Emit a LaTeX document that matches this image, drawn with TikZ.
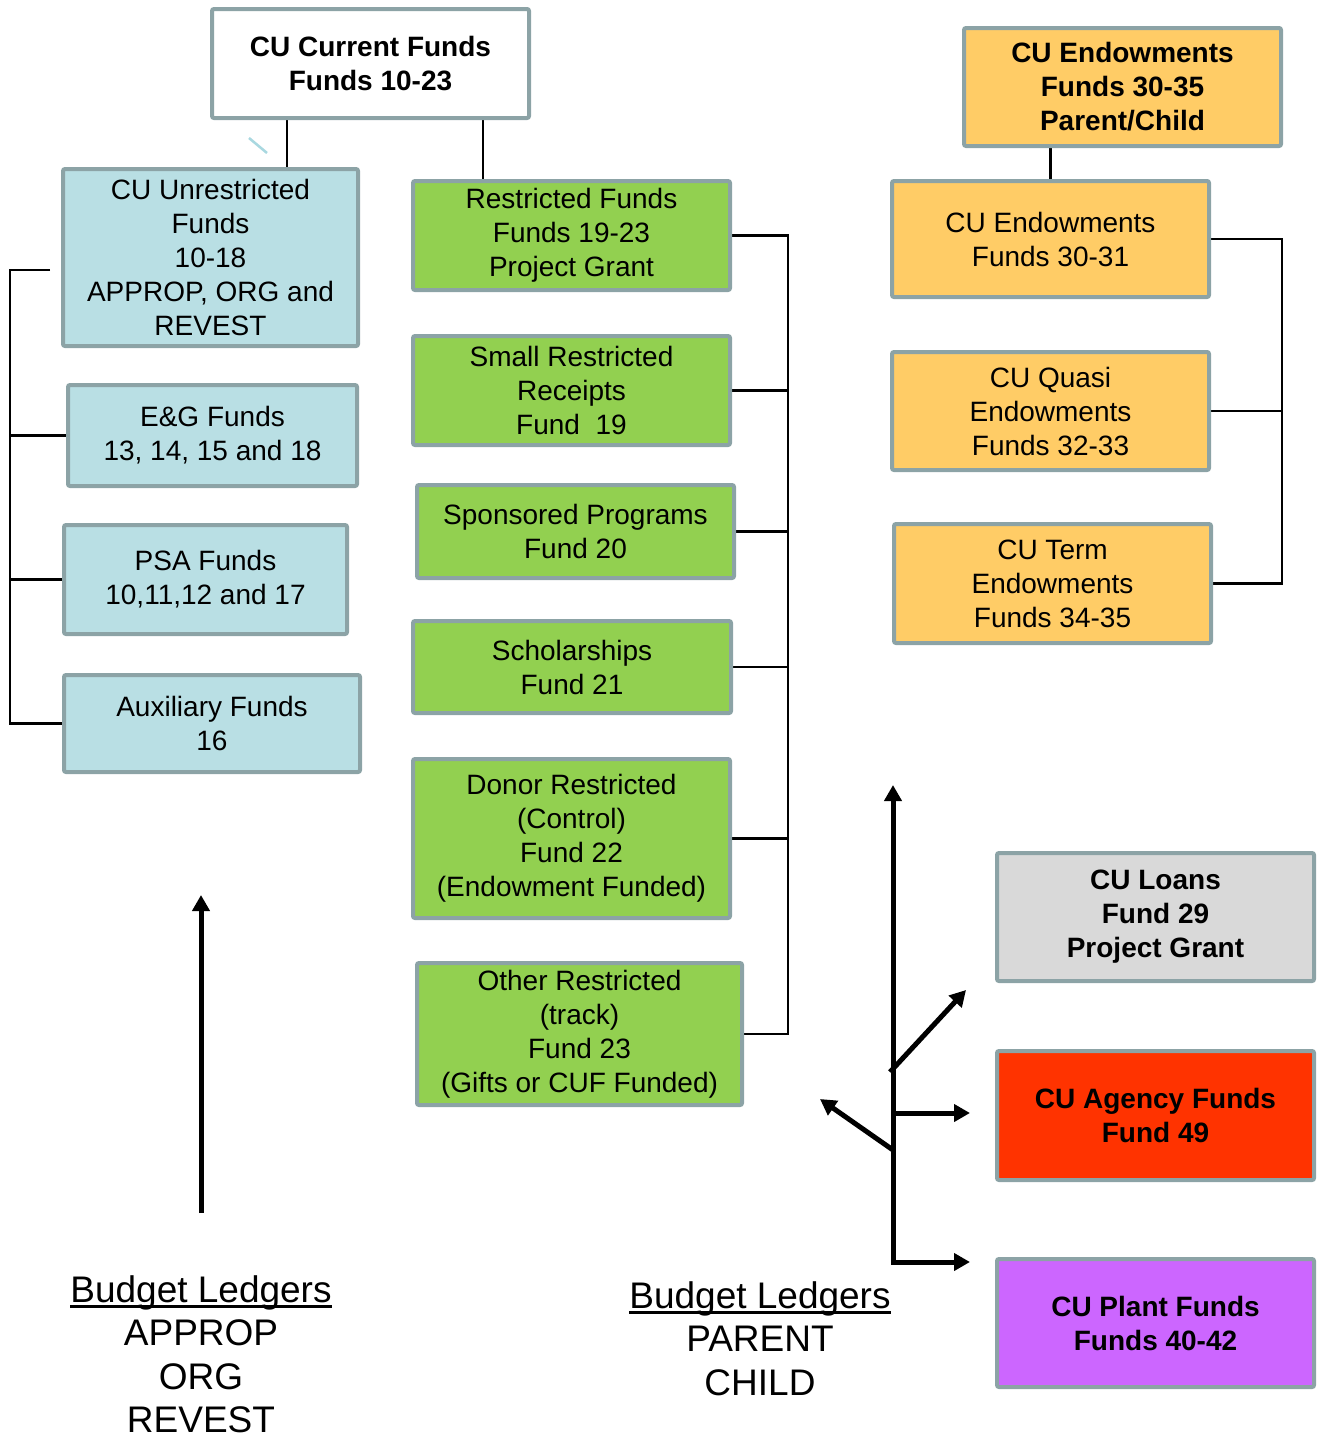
\documentclass[tikz,border=0pt]{standalone}
\usepackage{fontspec}
\setmainfont{Liberation Sans}
\usetikzlibrary{arrows.meta,backgrounds}
\definecolor{bord}{HTML}{8CA3A6}
\definecolor{lblue}{HTML}{B9DFE4}
\definecolor{lgreen}{HTML}{92D050}
\definecolor{lorange}{HTML}{FFCC66}
\definecolor{lgray}{HTML}{D9D9D9}
\definecolor{lred}{HTML}{FF3300}
\definecolor{lpurple}{HTML}{CC66FF}
\definecolor{stub}{HTML}{A9D8E0}
\newcommand{\ulbox}[1]{\setbox0\hbox{#1}\rlap{\rule[-6pt]{\wd0}{2.6pt}}\box0}
\begin{document}
\begin{tikzpicture}[x=1pt,y=-1pt,
  box/.style={draw=bord, line width=4pt, rounded corners=2pt, align=center, inner sep=0pt,
    font=\fontsize{28}{34}\selectfont},
  bbox/.style={box, font=\fontsize{28}{34}\selectfont\bfseries},
  wh/.style 2 args={minimum width=#1pt, minimum height=#2pt},
  conn/.style={line width=2.8pt, black},
  arr/.style={line width=5pt, black, -{Triangle[length=16pt,width=17pt]}},
  ledger/.style={anchor=north, align=center, inner sep=0pt, font=\fontsize{37}{43.5}\selectfont}
]
\useasboundingbox (0,0) rectangle (1325,1438);

% top current funds
\node[bbox, fill=white, wh={317}{109}] (cur) at (370.5,63.5) {CU Current Funds\\Funds 10-23};

% unrestricted column
\node[box, fill=lblue, wh={295}{177}] (unr) at (210.5,257.5) {CU Unrestricted\\Funds\\10-18\\APPROP, ORG and\\REVEST};
\node[box, fill=lblue, wh={289}{101}] (eg) at (212.5,435.5) {E\&G Funds\\13, 14, 15 and 18};
\node[box, fill=lblue, wh={283}{109}] (psa) at (205.5,579.5) {PSA Funds\\10,11,12 and 17};
\node[box, fill=lblue, wh={296}{97}] (aux) at (212,723.5) {Auxiliary Funds\\16};

% restricted column
\node[box, fill=lgreen, wh={317}{109}] (rst) at (571.5,235.5) {Restricted Funds\\Funds 19-23\\Project Grant};
\node[box, fill=lgreen, wh={317}{109}] (srr) at (571.5,390.5) {Small Restricted\\Receipts\\Fund\ \ 19};
\node[box, fill=lgreen, wh={317}{93}] (spo) at (575.5,531.5) {Sponsored Programs\\Fund 20};
\node[box, fill=lgreen, wh={318}{92}] (sch) at (572,667) {Scholarships\\Fund 21};
\node[box, fill=lgreen, wh={317}{159}] (don) at (571.5,838.5) {Donor Restricted\\(Control)\\Fund 22\\(Endowment Funded)};
\node[box, fill=lgreen, wh={325}{142}] (oth) at (579.5,1034) {Other Restricted\\(track)\\Fund 23\\(Gifts or CUF Funded)};

% endowments
\node[bbox, fill=lorange, wh={317}{118}] (end) at (1122.5,87) {CU Endowments\\Funds 30-35\\Parent/Child};
\node[box, fill=lorange, wh={317}{116}] (e31) at (1050.5,239) {CU Endowments\\Funds 30-31};
\node[box, fill=lorange, wh={317}{118}] (qua) at (1050.5,411) {CU Quasi\\Endowments\\Funds 32-33};
\node[box, fill=lorange, wh={317}{119}] (ter) at (1052.5,583.5) {CU Term\\Endowments\\Funds 34-35};

% other fund groups
\node[bbox, fill=lgray, wh={317}{128}] (loa) at (1155.5,917) {CU Loans\\Fund 29\\Project Grant};
\node[bbox, fill=lred, wh={317}{129}] (age) at (1155.5,1115.5) {CU Agency Funds\\Fund 49};
\node[bbox, fill=lpurple, wh={317}{128}] (pla) at (1155.5,1323) {CU Plant Funds\\Funds 40-42};

% ledger texts
\node[ledger] (bl1) at (201,1275) {\ulbox{Budget Ledgers}\\APPROP\\ORG\\REVEST};
\node[ledger] (bl2) at (760,1281) {\ulbox{Budget Ledgers}\\PARENT\\CHILD};

% coordinates
\coordinate (c1) at (287,0);
\coordinate (c2) at (483,0);
\coordinate (lb) at (10,270);
\coordinate (lbs) at (50,270);
\coordinate (gb) at (788,0);
\coordinate (rb) at (1282,0);
\coordinate (tp) at (893,785);
\coordinate (sp) at (893,1262);
\coordinate (tpl) at (970,1262);
\coordinate (dr0) at (890,1072);
\coordinate (dr1) at (966,990);
\coordinate (hr0) at (893,1113);
\coordinate (hr1) at (970,1113);
\coordinate (dl0) at (893,1150);
\coordinate (dl1) at (820,1099);
\coordinate (la0) at (201,1213);
\coordinate (la1) at (201,895);

\begin{scope}[on background layer]
  \draw[conn] (cur.south -| c1) -- (unr.north -| c1);
  \draw[conn] (cur.south -| c2) -- (rst.north -| c2);
  \draw[line width=2.5pt, stub] (249,138) -- (267,153);
  % left bracket
  \draw[conn] (lbs) -- (lb) |- (aux.west);
  \draw[conn] (eg.west) -- (eg.west -| lb);
  \draw[conn] (psa.west) -- (psa.west -| lb);
  % green bracket
  \draw[conn] (rst.east) -- (rst.east -| gb) -- (oth.east -| gb) -- (oth.east);
  \draw[conn] (srr.east) -- (srr.east -| gb);
  \draw[conn] (spo.east) -- (spo.east -| gb);
  \draw[conn] (sch.east) -- (sch.east -| gb);
  \draw[conn] (don.east) -- (don.east -| gb);
  % endowments
  \draw[conn] (e31.north) -- (e31.north |- end.south);
  \draw[conn] (e31.east) -- (e31.east -| rb) -- (ter.east -| rb) -- (ter.east);
  \draw[conn] (qua.east) -- (qua.east -| rb);
\end{scope}

% arrows
\draw[line width=5pt, black, line join=miter, {Triangle[length=16pt,width=17pt]}-{Triangle[length=16pt,width=17pt]}] (tp) -- (sp) -- (tpl);
\draw[arr] (dr0) -- (dr1);
\draw[arr] (hr0) -- (hr1);
\draw[arr] (dl0) -- (dl1);
\draw[arr] (la0) -- (la1);
\end{tikzpicture}
\end{document}
